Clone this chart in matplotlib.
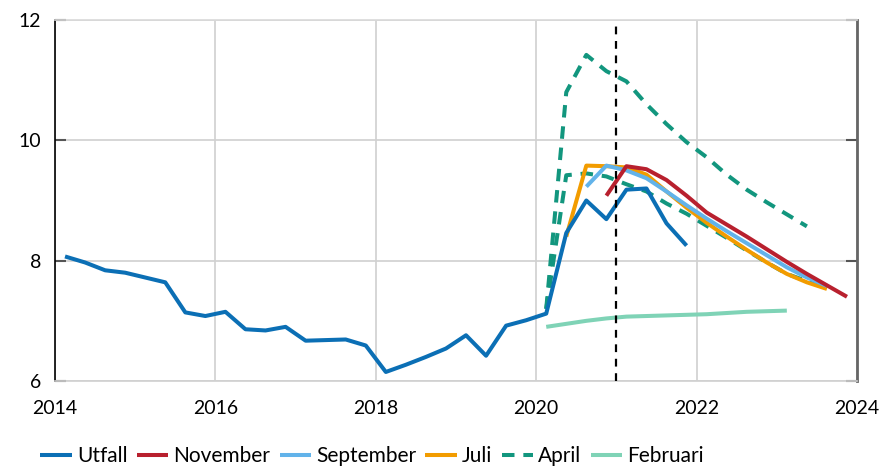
import matplotlib
matplotlib.use("Agg")
import matplotlib.pyplot as plt
import numpy as np

plt.rcParams['font.family'] = ['Lato', 'DejaVu Sans']

# Quarterly observations placed mid-quarter
utfall_start = 2014.125
utfall = [8.07, 7.97, 7.84, 7.80, 7.72, 7.64, 7.14, 7.08, 7.15, 6.86, 6.84, 6.90,
          6.67, 6.68, 6.69, 6.59, 6.15, 6.27, 6.40, 6.54, 6.76, 6.42, 6.92, 7.01,
          7.12, 8.46, 9.00, 8.69, 9.18, 9.20, 8.62, 8.25]

november_start = 2020.875
november = [9.08, 9.57, 9.52, 9.34, 9.08, 8.80, 8.60, 8.40, 8.19, 7.98, 7.78, 7.59, 7.40]

september_start = 2020.625
september = [9.23, 9.58, 9.50, 9.37, 9.15, 8.92, 8.70, 8.49, 8.29, 8.09, 7.89, 7.72, 7.58]

juli_start = 2020.375
juli = [8.40, 9.58, 9.57, 9.55, 9.43, 9.15, 8.88, 8.63, 8.40, 8.18, 7.97, 7.78, 7.64, 7.53]

april_start = 2020.125
april_high = [7.20, 10.80, 11.42, 11.15, 10.98, 10.60, 10.27, 9.97, 9.72, 9.43, 9.18, 8.97, 8.77, 8.57]
april_low = [7.20, 9.42, 9.45, 9.40, 9.27, 9.15, 8.95, 8.78, 8.58, 8.38, 8.17, 7.97, 7.78, 7.66, 7.58]

februari_start = 2020.125
februari = [6.90, 6.95, 7.00, 7.04, 7.07, 7.08, 7.09, 7.10, 7.11, 7.13, 7.15, 7.16, 7.17]

xticks = [2014, 2016, 2018, 2020, 2022, 2024]
yticks = [6, 8, 10, 12]
vline_x = 2021.0


def qx(start, vals):
    return start + 0.25 * np.arange(len(vals))


fig = plt.figure(figsize=(8.82, 4.67), dpi=100)
ax = fig.add_axes([55 / 882, 1 - 381 / 467, (857 - 55) / 882, (381 - 20) / 467])

lw = 2.9
c_utfall = '#0b6fb5'
c_nov = '#b8202e'
c_sep = '#62b3ea'
c_jul = '#f29c00'
c_apr = '#12967e'
c_feb = '#7fd3b6'

ax.plot(qx(februari_start, februari), februari, color=c_feb, lw=lw, zorder=3,
        solid_capstyle='butt', label='Februari')
ax.plot(qx(april_start, april_high), april_high, color=c_apr, lw=lw, zorder=4,
        dashes=(3.1, 2.2), label='April')
ax.plot(qx(april_start, april_low), april_low, color=c_apr, lw=lw, zorder=4,
        dashes=(3.1, 2.2))
ax.plot(qx(juli_start, juli), juli, color=c_jul, lw=lw, zorder=5,
        solid_capstyle='butt', label='Juli')
ax.plot(qx(september_start, september), september, color=c_sep, lw=lw, zorder=6,
        solid_capstyle='butt', label='September')
ax.plot(qx(november_start, november), november, color=c_nov, lw=lw, zorder=7,
        solid_capstyle='butt', label='November')
ax.plot(qx(utfall_start, utfall), utfall, color=c_utfall, lw=lw, zorder=8,
        solid_capstyle='butt', label='Utfall')

ax.axvline(vline_x, color='black', lw=1.6, dashes=(3.5, 3), zorder=9)

ax.set_xlim(2014, 2024)
ax.set_ylim(6, 12)
ax.set_xticks(xticks)
ax.set_yticks(yticks)
ax.grid(True, color='#d0d0d0', lw=1.2, zorder=0)
ax.set_axisbelow(True)

ax.spines['left'].set_color('black')
ax.spines['left'].set_linewidth(1.2)
ax.spines['right'].set_color('#666666')
ax.spines['right'].set_linewidth(2.0)
ax.spines['top'].set_color('#d9d9d9')
ax.spines['top'].set_linewidth(1.2)
ax.spines['bottom'].set_color('#d0d0d0')
ax.spines['bottom'].set_linewidth(1.2)

ax.tick_params(axis='y', direction='in', left=True, right=True, length=8,
               width=1.5, color='#555555', labelsize=14, pad=10)
ax.tick_params(axis='x', length=0, labelsize=14, pad=14)

handles, labels = ax.get_legend_handles_labels()
order = ['Utfall', 'November', 'September', 'Juli', 'April', 'Februari']
hmap = dict(zip(labels, handles))
fig.legend([hmap[k] for k in order], order, loc='center',
           bbox_to_anchor=(372 / 882, 1 - 456 / 467), ncol=6, frameon=False,
           fontsize=15, handlelength=1.5, handletextpad=0.25, columnspacing=0.45)

fig.savefig('out.png', dpi=100)
